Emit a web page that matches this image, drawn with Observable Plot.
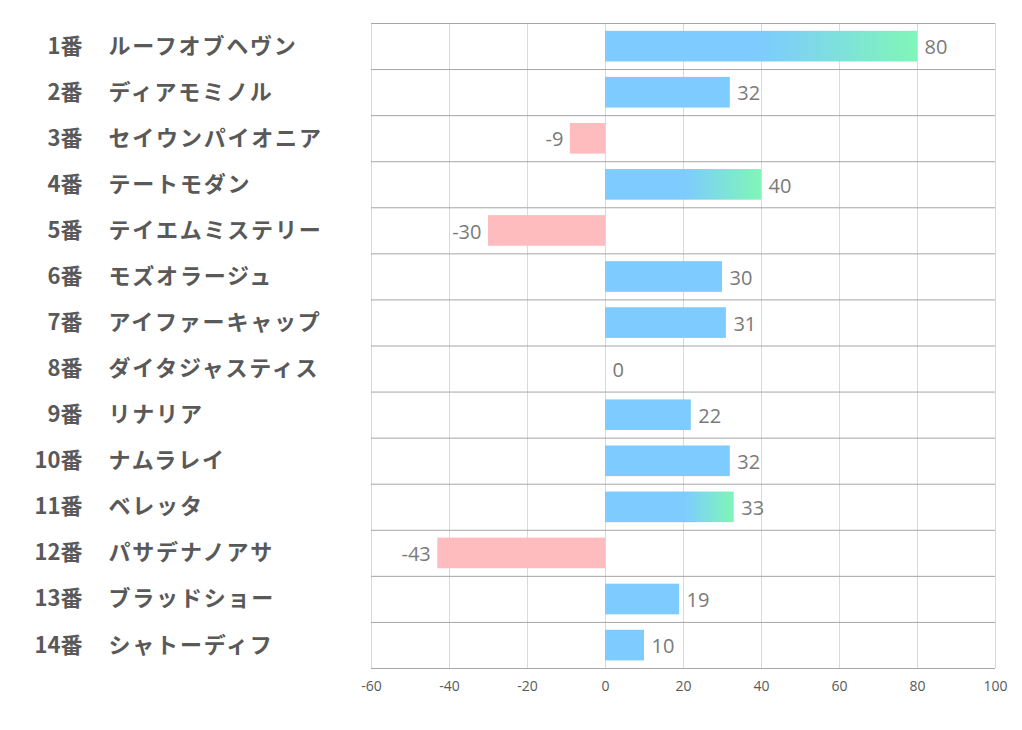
<!DOCTYPE html>
<html>
<head>
<meta charset="utf-8">
<script src="https://cdn.jsdelivr.net/npm/d3@7"></script>
<script src="https://cdn.jsdelivr.net/npm/@observablehq/plot@0.6"></script>
<style>
  html, body { margin: 0; padding: 0; background: #fff; }
</style>
</head>
<body>
<div id="chart"></div>
<script>
const nums = [1, 2, 3, 4, 5, 6, 7, 8, 9, 10, 11, 12, 13, 14];
const names = ["ルーフオブヘヴン", "ディアモミノル", "セイウンパイオニア", "テートモダン", "テイエムミステリー", "モズオラージュ", "アイファーキャップ", "ダイタジャスティス", "リナリア", "ナムラレイ", "ベレッタ", "パサデナノアサ", "ブラッドショー", "シャトーディフ"];
const values = [80, 32, -9, 40, -30, 30, 31, 0, 22, 32, 33, -43, 19, 10];
const xTicks = [-60, -40, -20, 0, 20, 40, 60, 80, 100];

const BLUE = "#7dcbff", GREEN = "#7ff6b8", PINK = "#ffbcbe";
const top3 = values.slice().sort((a, b) => b - a).slice(0, 3);
const rows = values.map((v, i) => ({i, v, num: nums[i], name: names[i], hi: top3.includes(v) && v > 0}));
const pos = rows.filter(d => d.v >= 0), neg = rows.filter(d => d.v < 0);
const mid = rows.map(d => d.i + 0.5);

const labelStyle = {fontSize: 20, fill: "#7a7a7a", fontFamily: "'Open Sans', sans-serif"};
const nameStyle = {tickSize: 0, fontSize: 22, fontWeight: "bold", fill: "#595959",
  fontFamily: "'Noto Sans CJK JP', sans-serif"};

const svg = Plot.plot({
  width: 1022,
  height: 730,
  marginLeft: 371,
  marginRight: 27,
  marginTop: 23,
  marginBottom: 62,
  style: {fontFamily: "'Open Sans', 'Noto Sans CJK JP', sans-serif", background: "#fff"},
  x: {domain: [-60, 100], axis: null},
  y: {domain: [0, 14], reverse: true, axis: null},
  color: {type: "identity"},
  marks: [
    Plot.gridX({ticks: xTicks, stroke: "#d9d9d9", strokeOpacity: 1}),
    Plot.ruleY(d3.range(0, 15), {stroke: "#a6a6a6", strokeWidth: 1}),
    Plot.rect(rows, {
      x1: 0, x2: "v",
      y1: d => d.i + 0.17, y2: d => d.i + 0.835,
      fill: d => d.v < 0 ? PINK : d.hi ? `url(#grad${d.i})` : BLUE
    }),
    Plot.text(pos, {x: "v", y: d => d.i + 0.53, text: d => String(d.v), textAnchor: "start", dx: 7, ...labelStyle}),
    Plot.text(neg, {x: "v", y: d => d.i + 0.53, text: d => String(d.v), textAnchor: "end", dx: -7, ...labelStyle}),
    Plot.text(xTicks, {x: d => d, frameAnchor: "bottom", dy: 22, text: d => String(d),
      fontSize: 14, fill: "#595959", fontFamily: "'Open Sans', sans-serif"}),
    Plot.axisY({ticks: mid, tickPadding: 289, textAnchor: "end", label: null,
      tickFormat: t => nums[Math.floor(t)] + "番", ...nameStyle}),
    Plot.axisY({ticks: mid, tickPadding: 263, textAnchor: "start", label: null,
      tickFormat: t => names[Math.floor(t)], ...nameStyle})
  ]
});

// gradient fills for the top-3 bars
const defs = d3.select(svg).insert("defs", ":first-child");
rows.filter(d => d.hi).forEach(d => {
  const start = Math.max(d.v / 2, 20) / d.v;
  const g = defs.append("linearGradient").attr("id", `grad${d.i}`)
    .attr("x1", "0").attr("x2", "1").attr("y1", "0").attr("y2", "0");
  g.append("stop").attr("offset", 0).attr("stop-color", BLUE);
  g.append("stop").attr("offset", start).attr("stop-color", BLUE);
  g.append("stop").attr("offset", 1).attr("stop-color", GREEN);
});

// wider letter spacing for the horse names
d3.select(svg).selectAll("text").filter(function() { return names.includes(this.textContent); })
  .attr("letter-spacing", "1.8px");

document.getElementById("chart").appendChild(svg);
</script>
</body>
</html>
